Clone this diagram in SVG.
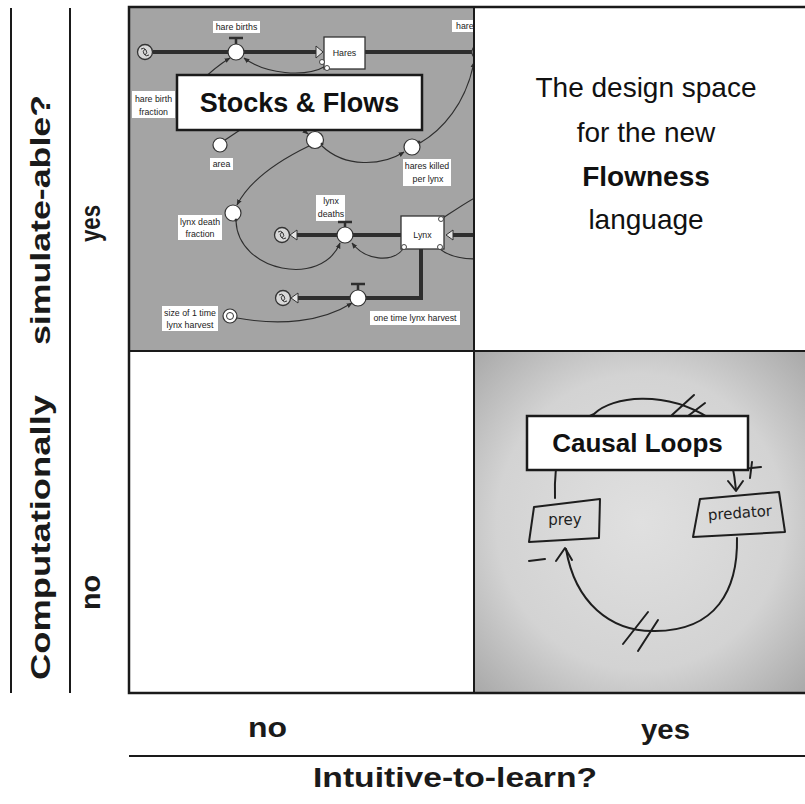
<svg xmlns="http://www.w3.org/2000/svg" width="805" height="804" viewBox="0 0 805 804">
<defs>
<style>
.ax{font-family:"Liberation Sans",Arial,sans-serif;font-weight:bold;font-size:28px;fill:#1a1a1a}
.lbl{font-family:"Liberation Sans",Arial,sans-serif;font-size:8.8px;fill:#222;text-anchor:middle}
.lblbox{fill:#fff;stroke:none}
.pipe{stroke:#2e2e2e;stroke-width:4;fill:none}
.pipein{stroke:#8a8a8a;stroke-width:1;fill:none}
.conn{stroke:#2e2e2e;stroke-width:1.1;fill:none;marker-end:url(#ah)}
.plain{stroke:#2e2e2e;stroke-width:1.1;fill:none}
.valve{fill:#fff;stroke:#333;stroke-width:1.2}
.bar{stroke:#2e2e2e;stroke-width:2.5;fill:none}
.stock{fill:#fff;stroke:#333;stroke-width:1.3}
.dot{fill:#fff;stroke:#333;stroke-width:0.9}
.cloud{fill:#d8d8d8;stroke:#333;stroke-width:1.3}
.swirl{fill:none;stroke:#333;stroke-width:1}
.hollow{fill:#e4e4e4;stroke:#333;stroke-width:1}
.hand{stroke:#1e1e1e;stroke-width:2;fill:none;stroke-linecap:round;stroke-linejoin:round}
.handtxt{font-family:"DejaVu Sans",sans-serif;font-size:15px;fill:#1e1e1e;text-anchor:middle}
.title{font-family:"Liberation Sans",Arial,sans-serif;font-weight:bold;fill:#111;text-anchor:middle}
.body{font-family:"Liberation Sans",Arial,sans-serif;font-size:28px;fill:#111;text-anchor:middle}
.box{fill:#fff;stroke:#1a1a1a;stroke-width:2.5}
</style>
<marker id="ah" viewBox="0 0 10 10" refX="9" refY="5" markerWidth="6" markerHeight="6" orient="auto" markerUnits="userSpaceOnUse"><path d="M0,1 L10,5 L0,9 z" fill="#2e2e2e"/></marker>
<clipPath id="qclip"><rect x="130" y="8" width="343" height="342"/></clipPath>
<radialGradient id="paper" cx="0.5" cy="0.5" r="0.72"><stop offset="0" stop-color="#e0e0e0"/><stop offset="0.6" stop-color="#d3d3d3"/><stop offset="1" stop-color="#a6a6a6"/></radialGradient>
</defs>

<g id="quadrants">
<rect x="129" y="7" width="345" height="344" fill="#a4a4a4"/>
<rect x="129" y="351" width="345" height="342" fill="#fff"/>
<rect x="474" y="7" width="333" height="344" fill="#fff"/>
<rect x="474" y="351" width="333" height="342" fill="url(#paper)"/>
</g>

<g id="stocks-flows" clip-path="url(#qclip)">
<g id="sf-connectors">
<path class="pipe" d="M153,52 H318"/>
<path class="pipe" d="M365,52 H480"/>
<path class="pipe" d="M401,235 H295"/>
<path class="pipe" d="M476,235 H452"/>
<path class="pipe" d="M421,249 V298 H295"/>
<path class="conn" d="M326,66 C305,78 265,74 244,58"/>
<path class="conn" d="M198,84 C210,72 220,64 230,58"/>
<path class="conn" d="M420,143 C442,130 466,104 474,62"/>
<path class="plain" d="M225,140 L240,130"/>
<path class="conn" d="M298,126 L308,134"/>
<path class="conn" d="M322,146 C345,168 382,166 404,152"/>
<path class="conn" d="M309,146 C280,160 250,180 237,205"/>
<path class="conn" d="M236,221 C238,272 322,288 340,243"/>
<path class="conn" d="M404,248 C392,264 365,260 352,243"/>
<path class="plain" d="M443,218 C455,210 465,203 478,196"/>
<path class="plain" d="M440,249 C448,256 460,259 478,259"/>
<path class="conn" d="M237,318 C280,326 322,322 352,303"/>
</g>
<g id="sf-cloud-1"><circle class="cloud" cx="145" cy="52" r="7.5"/><path class="swirl" d="M141,49 a3.5,3.5 0 1,1 4,6 M149,55 a3.5,3.5 0 1,1 -4,-6"/></g>
<g id="sf-cloud-2"><circle class="cloud" cx="282" cy="235" r="7.5"/><path class="swirl" d="M278,232 a3.5,3.5 0 1,1 4,6 M286,238 a3.5,3.5 0 1,1 -4,-6"/><path class="hollow" d="M290,235 L297,230 L297,240 Z"/></g>
<g id="sf-cloud-3"><circle class="cloud" cx="283" cy="298" r="7.5"/><path class="swirl" d="M279,295 a3.5,3.5 0 1,1 4,6 M287,301 a3.5,3.5 0 1,1 -4,-6"/><path class="hollow" d="M291,298 L298,293 L298,303 Z"/></g>
<g id="sf-hare-births">
<path class="bar" d="M229,38 H243 M236,38 V44"/>
<circle class="valve" cx="236" cy="52" r="8"/>
<rect class="lblbox" x="213" y="21" width="47" height="12"/>
<text class="lbl" x="236.5" y="30">hare births</text>
</g>
<g id="sf-hares">
<path class="hollow" d="M323,52 L316,46 L316,58 Z"/>
<rect class="stock" x="324" y="37" width="41" height="32"/>
<text class="lbl" x="344.5" y="56">Hares</text>
<circle class="dot" cx="322" cy="62" r="2.5"/>
<circle class="dot" cx="327" cy="68" r="2.5"/>
</g>
<g id="sf-hare-deaths">
<path class="bar" d="M473,38 H487 M480,38 V44"/>
<circle class="valve" cx="480" cy="52" r="8"/>
<rect class="lblbox" x="452" y="20" width="24" height="12"/>
<text class="lbl" x="456" y="29" style="text-anchor:start">hare</text>
</g>
<g id="sf-hare-birth-fraction">
<rect class="lblbox" x="132" y="91" width="43" height="27"/>
<text class="lbl" x="153.5" y="102">hare birth</text>
<text class="lbl" x="153.5" y="115">fraction</text>
</g>
<g id="sf-area">
<circle class="valve" cx="220" cy="145" r="7"/>
<rect class="lblbox" x="210" y="158" width="23" height="12"/>
<text class="lbl" x="221.5" y="167">area</text>
</g>
<g id="sf-aux-top">
<circle class="valve" cx="315" cy="140" r="8.5"/>
<circle cx="322" cy="144" r="1.5" fill="#333"/>
</g>
<g id="sf-hares-killed">
<circle class="valve" cx="412" cy="147" r="8"/>
<circle cx="419" cy="142" r="1.5" fill="#333"/>
<rect class="lblbox" x="403" y="159" width="48" height="27"/>
<text class="lbl" x="427" y="169">hares killed</text>
<text class="lbl" x="428" y="182">per lynx</text>
</g>
<g id="sf-lynx-death-fraction">
<circle class="valve" cx="233" cy="213" r="8"/>
<circle cx="236" cy="220" r="1.5" fill="#333"/>
<rect class="lblbox" x="178" y="215" width="44" height="25"/>
<text class="lbl" x="200" y="225">lynx death</text>
<text class="lbl" x="200" y="237">fraction</text>
</g>
<g id="sf-lynx-deaths">
<rect class="lblbox" x="316" y="195" width="29" height="26"/>
<text class="lbl" x="331" y="204">lynx</text>
<text class="lbl" x="331" y="217">deaths</text>
<path class="bar" d="M338,222 H352 M345,222 V227"/>
<circle class="valve" cx="345" cy="235" r="8"/>
</g>
<g id="sf-lynx">
<path class="hollow" d="M446,235 L453,230 L453,240 Z"/>
<rect class="stock" x="401" y="216" width="43" height="33"/>
<text class="lbl" x="422.5" y="238">Lynx</text>
<circle class="dot" cx="441" cy="219" r="2.5"/>
<circle class="dot" cx="404" cy="247" r="2.5"/>
<circle class="dot" cx="440" cy="247" r="2.5"/>
</g>
<g id="sf-one-time-harvest">
<path class="bar" d="M351,284 H365 M358,284 V290"/>
<circle class="valve" cx="358" cy="298" r="8"/>
<rect class="lblbox" x="370" y="311" width="90" height="14"/>
<text class="lbl" x="415" y="321">one time lynx harvest</text>
</g>
<g id="sf-size-harvest">
<circle class="valve" cx="230" cy="316" r="7"/>
<circle fill="none" stroke="#333" stroke-width="1" cx="230" cy="316" r="3.5"/>
<rect class="lblbox" x="162" y="306" width="56" height="25"/>
<text class="lbl" x="190" y="315.5">size of 1 time</text>
<text class="lbl" x="190" y="328">lynx harvest</text>
</g>
<g id="sf-title">
<rect class="box" x="177" y="75" width="245" height="55"/>
<text class="title" x="299.5" y="112" style="font-size:27px">Stocks &amp; Flows</text>
</g>
</g>

<g id="design-space">
<text class="body" x="646" y="97">The design space</text>
<text class="body" x="646" y="142">for the new</text>
<text class="body" x="646" y="186" style="font-weight:bold">Flowness</text>
<text class="body" x="646" y="229">language</text>
</g>

<g id="causal-loops">
<g id="cl-connectors">
<path class="hand" d="M555,498 C554,470 556,430 594,414 C612,396 665,390 709,418 C726,432 733,460 736,490"/>
<path class="hand" d="M728,481 L736,491 L743,481"/>
<path class="hand" d="M752,462 L750,478 M742,469 L761,467"/>
<path class="hand" d="M672,415 L694,395 M688,416 L705,403"/>
<path class="hand" d="M737,538 C738,590 716,631 655,631 C610,632 575,602 566,549"/>
<path class="hand" d="M556,561 L565,548 L572,560"/>
<path class="hand" d="M623,644 L648,612 M638,651 L658,620"/>
<path class="hand" d="M529,561 L545,559"/>
</g>
<g id="cl-prey">
<path class="hand" d="M534,507 L600,499 L599,538 L529,542 Z"/>
<text class="handtxt" x="565" y="525">prey</text>
</g>
<g id="cl-predator">
<path class="hand" d="M700,499 L779,492 L785,532 L693,537 Z"/>
<text class="handtxt" x="740" y="518" transform="rotate(-4 740 514)" textLength="64">predator</text>
</g>
<g id="cl-title">
<rect class="box" x="527" y="416" width="221" height="54"/>
<text class="title" x="637.5" y="452" style="font-size:26px">Causal Loops</text>
</g>
</g>

<g id="frame" fill="none" stroke="#1a1a1a">
<rect x="129" y="7" width="678" height="686" stroke-width="2.5"/>
<line x1="474" y1="7" x2="474" y2="693" stroke-width="2"/>
<line x1="129" y1="351" x2="807" y2="351" stroke-width="2"/>
<line x1="11" y1="8" x2="11" y2="693" stroke-width="2"/>
<line x1="70" y1="8" x2="70" y2="693" stroke-width="2"/>
<line x1="129" y1="756" x2="807" y2="756" stroke-width="2"/>
</g>

<g id="axis-labels">
<text class="ax" transform="translate(50,680) rotate(-90)" textLength="285" lengthAdjust="spacingAndGlyphs">Computationally</text>
<text class="ax" transform="translate(50,345) rotate(-90)" textLength="250" lengthAdjust="spacingAndGlyphs">simulate-able?</text>
<text class="ax" transform="translate(100,242) rotate(-90)" textLength="37" lengthAdjust="spacingAndGlyphs">yes</text>
<text class="ax" transform="translate(100,610) rotate(-90)" textLength="35" lengthAdjust="spacingAndGlyphs">no</text>
<text class="ax" x="248" y="737" textLength="39" lengthAdjust="spacingAndGlyphs">no</text>
<text class="ax" x="641" y="739" textLength="49" lengthAdjust="spacingAndGlyphs">yes</text>
<text class="ax" x="313" y="787" textLength="284" lengthAdjust="spacingAndGlyphs">Intuitive-to-learn?</text>
</g>
</svg>
